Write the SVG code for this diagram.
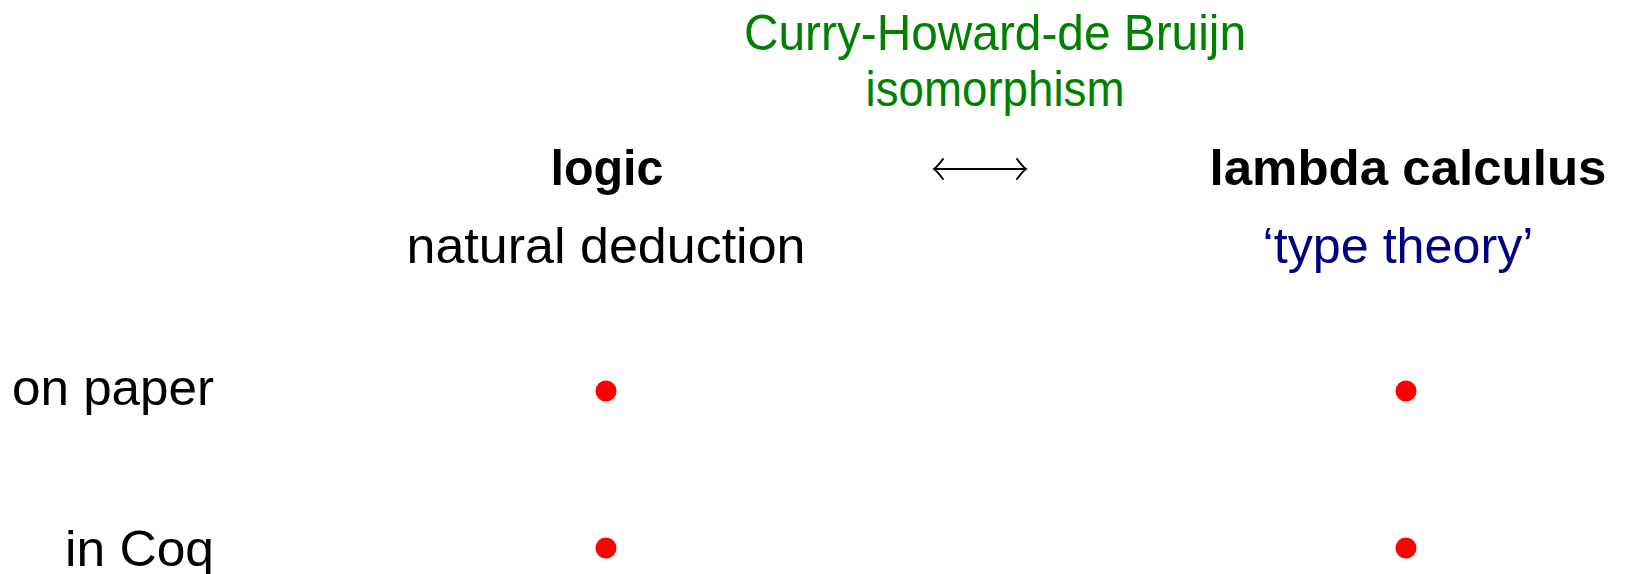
<svg xmlns="http://www.w3.org/2000/svg" width="1625" height="574" viewBox="0 0 1625 574">
<defs>
<style>
text { font-family: "Liberation Sans", Arial, sans-serif; font-size: 50px; }
.b { font-weight: bold; }
.c { text-anchor: middle; }
.e { text-anchor: end; }
.green { fill: #008000; }
.blue { fill: #000080; }
.black { fill: #000000; }
.dot { fill: #ff0000; }
.conn { stroke: #000; stroke-width: 2; fill: none; }
</style>
<marker id="tip" viewBox="-12 -12 14 24" refX="0" refY="0" markerWidth="14" markerHeight="24" markerUnits="userSpaceOnUse" orient="auto-start-reverse">
<path d="M -9 -10 Q -3 -2 0 0 Q -3 2 -9 10" fill="none" stroke="#000" stroke-width="2" stroke-linecap="round"/>
</marker>
</defs>
<rect width="1625" height="574" fill="#ffffff"/>
<g id="title">
<text class="c green" x="995" y="50" textLength="502" lengthAdjust="spacingAndGlyphs">Curry-Howard-de Bruijn</text>
<text class="c green" x="995" y="106" textLength="259" lengthAdjust="spacingAndGlyphs">isomorphism</text>
</g>
<g id="logic">
<text class="c b black" x="607" y="185" textLength="113" lengthAdjust="spacingAndGlyphs">logic</text>
<text class="c black" x="606" y="263" textLength="399" lengthAdjust="spacingAndGlyphs">natural deduction</text>
</g>
<g id="lambda">
<text class="c b black" x="1408" y="185" textLength="397" lengthAdjust="spacingAndGlyphs">lambda calculus</text>
<text class="c blue" x="1398" y="263" textLength="271" lengthAdjust="spacingAndGlyphs">‘type theory’</text>
</g>
<g id="row-paper">
<text class="e black" x="214" y="405" textLength="202" lengthAdjust="spacingAndGlyphs">on paper</text>
</g>
<g id="row-coq">
<text class="e black" x="214" y="566" textLength="149" lengthAdjust="spacingAndGlyphs">in Coq</text>
</g>
<g id="dot-logic-paper"><circle class="dot" cx="606" cy="391" r="10.5"/></g>
<g id="dot-logic-coq"><circle class="dot" cx="606" cy="548" r="10.5"/></g>
<g id="dot-lambda-paper"><circle class="dot" cx="1406" cy="391" r="10.5"/></g>
<g id="dot-lambda-coq"><circle class="dot" cx="1406" cy="548" r="10.5"/></g>
<g id="connectors">
<line class="conn" x1="934" y1="169" x2="1026" y2="169" marker-start="url(#tip)" marker-end="url(#tip)"/>
</g>
</svg>
